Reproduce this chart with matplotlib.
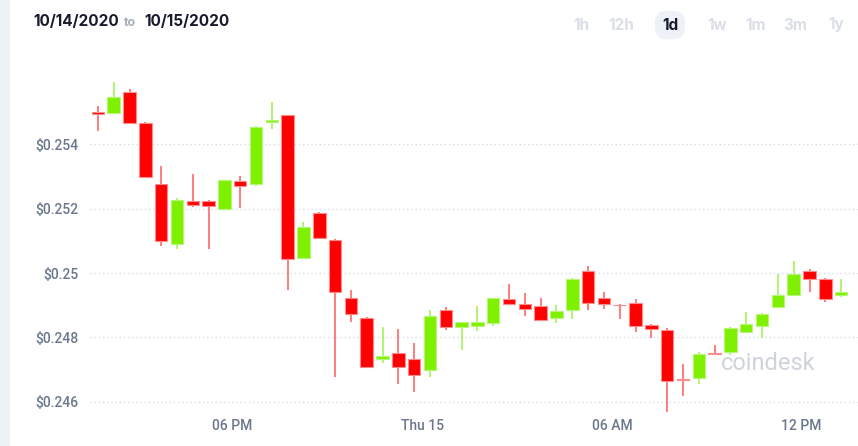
"""
Coindesk-style 30-minute candlestick chart, 10/14/2020 - 10/15/2020.
"""

import matplotlib
matplotlib.use("Agg")
import matplotlib.pyplot as plt
import matplotlib.dates as mdates
from matplotlib.patches import Rectangle
import pandas as pd

UP_COLOR = "#7ef000"
DOWN_COLOR = "#ff0000"
LABEL_FONT = ["Roboto", "DejaVu Sans"]

# 30 minute candles, first one centred at 13:45 on the 14th
times = pd.date_range("2020-10-14 13:45", periods=48, freq="30min")

opens = [0.25502, 0.25497, 0.25564, 0.25466, 0.25277, 0.25090, 0.25224, 0.25223, 0.25199, 0.25287,
         0.25277, 0.25471, 0.25490, 0.25046, 0.25188, 0.25102, 0.24921, 0.24859, 0.24733, 0.24750,
         0.24732, 0.24698, 0.24885, 0.24833, 0.24836, 0.24844, 0.24919, 0.24904, 0.24896, 0.24861,
         0.24884, 0.25007, 0.24922, 0.24902, 0.24906, 0.24837, 0.24824, 0.24669, 0.24673, 0.24751,
         0.24753, 0.24817, 0.24835, 0.24895, 0.24933, 0.25006, 0.24982, 0.24933]
closes = [0.25494, 0.25548, 0.25466, 0.25300, 0.25100, 0.25226, 0.25212, 0.25208, 0.25289, 0.25271,
          0.25454, 0.25476, 0.25043, 0.25144, 0.25110, 0.24941, 0.24873, 0.24709, 0.24741, 0.24709,
          0.24683, 0.24866, 0.24831, 0.24847, 0.24848, 0.24921, 0.24903, 0.24889, 0.24854, 0.24881,
          0.24981, 0.24908, 0.24905, 0.24899, 0.24836, 0.24825, 0.24664, 0.24666, 0.24749, 0.24748,
          0.24828, 0.24841, 0.24872, 0.24932, 0.24996, 0.24982, 0.24919, 0.24940]
highs = [0.25519, 0.25595, 0.25571, 0.25471, 0.25333, 0.25234, 0.25307, 0.25227, 0.25289, 0.25302,
         0.25457, 0.25531, 0.25491, 0.25159, 0.25191, 0.25105, 0.24947, 0.24862, 0.24833, 0.24826,
         0.24781, 0.24885, 0.24893, 0.24847, 0.24897, 0.24923, 0.24965, 0.24937, 0.24922, 0.24900,
         0.24984, 0.25023, 0.24941, 0.24904, 0.24919, 0.24841, 0.24828, 0.24717, 0.24755, 0.24776,
         0.24833, 0.24879, 0.24876, 0.24996, 0.25037, 0.25012, 0.24984, 0.24980]
lows = [0.25443, 0.25497, 0.25462, 0.25298, 0.25085, 0.25075, 0.25204, 0.25076, 0.25196, 0.25203,
        0.25271, 0.25447, 0.24947, 0.25046, 0.25106, 0.24678, 0.24848, 0.24707, 0.24719, 0.24655,
        0.24629, 0.24676, 0.24823, 0.24761, 0.24821, 0.24836, 0.24903, 0.24867, 0.24852, 0.24844,
        0.24856, 0.24885, 0.24887, 0.24856, 0.24816, 0.24799, 0.24569, 0.24618, 0.24654, 0.24745,
        0.24745, 0.24814, 0.24799, 0.24892, 0.24933, 0.24940, 0.24911, 0.24925]

y_ticks = [0.246, 0.248, 0.25, 0.252, 0.254]
x_tick_times = ["2020-10-14 18:00", "2020-10-15 00:00", "2020-10-15 06:00", "2020-10-15 12:00"]
x_tick_labels = ["06 PM", "Thu 15", "06 AM", "12 PM"]
ranges = ["1h", "12h", "1d", "1w", "1m", "3m", "1y"]
active_range = "1d"

W, H = 858, 446
fig = plt.figure(figsize=(W / 100, H / 100), dpi=100)
fig.patch.set_facecolor("white")
fig.patches.append(Rectangle((0, 0), 10 / W, 1, transform=fig.transFigure,
                             facecolor="#eef2f7", edgecolor="none"))

ax = fig.add_axes([90 / W, 31.5 / H, 768 / W, 353.7 / H])
x = mdates.date2num(times)
width = 0.395 / 24

for xi, o, c, hi, lo in zip(x, opens, closes, highs, lows):
    up = c >= o
    col = UP_COLOR if up else DOWN_COLOR
    wick = "#9ff24a" if up else "#ff5a5a"
    edge = "#b6f77a" if up else "#ff8c8c"
    ax.vlines(xi, lo, hi, color=wick, linewidth=1.1, zorder=2)
    ax.bar(xi, max(abs(c - o), 0.000025), bottom=min(o, c), width=width,
           color=col, edgecolor=edge, linewidth=0.8, zorder=3)

ax.set_xlim(mdates.date2num(pd.Timestamp("2020-10-14 13:30")),
            mdates.date2num(pd.Timestamp("2020-10-15 13:47")))
ax.set_ylim(0.2456, 0.2566)

ax.set_yticks(y_ticks)
ax.set_yticklabels([f"${v:g}" for v in y_ticks], family=LABEL_FONT,
                   fontsize=10, color="#6a778c", fontweight="medium")
ax.set_xticks(mdates.date2num(pd.to_datetime(x_tick_times)))
ax.set_xticklabels(x_tick_labels, family=LABEL_FONT, fontsize=10, color="#6a778c",
                   fontweight="medium")
ax.tick_params(axis="both", length=0)
ax.tick_params(axis="y", pad=8)
ax.tick_params(axis="x", pad=3)
ax.yaxis.grid(True, linestyle=(0, (1, 2)), color="#d3dcea", linewidth=1)
ax.set_axisbelow(True)
for s in ax.spines.values():
    s.set_visible(False)

# watermark
ax.text(721 / W, 1 - 363 / H, "coindesk", transform=fig.transFigure, fontsize=17,
        color="#cfd3da", va="center", ha="left", family=["Roboto", "DejaVu Sans"], zorder=1)

# header
fig.text(33 / W, 1 - 22 / H, "10/14/2020", family=["Inter", "DejaVu Sans"],
         fontweight="bold", fontsize=11, color="#171a2b", va="center")
fig.text(124 / W, 1 - 23 / H, "to", family=["Inter", "DejaVu Sans"],
         fontweight="bold", fontsize=9, color="#a6adbb", va="center")
fig.text(144 / W, 1 - 22 / H, "10/15/2020", family=["Inter", "DejaVu Sans"],
         fontweight="bold", fontsize=11, color="#171a2b", va="center")

range_x = [581.7, 621.7, 670, 716.7, 756, 795, 836]
for rx, lab in zip(range_x, ranges):
    if lab == active_range:
        fig.text(rx / W, 1 - 25 / H, lab, family=["Inter", "DejaVu Sans"],
                 fontweight="bold", fontsize=11, color="#171a2b", ha="center", va="center",
                 bbox=dict(boxstyle="round,pad=0.45,rounding_size=0.8",
                           fc="#eef2f8", ec="none"))
    else:
        fig.text(rx / W, 1 - 25 / H, lab, family=["Inter", "DejaVu Sans"],
                 fontweight="bold", fontsize=11, color="#dadee6", ha="center", va="center")

fig.savefig("out.png", dpi=100)
plt.close(fig)
